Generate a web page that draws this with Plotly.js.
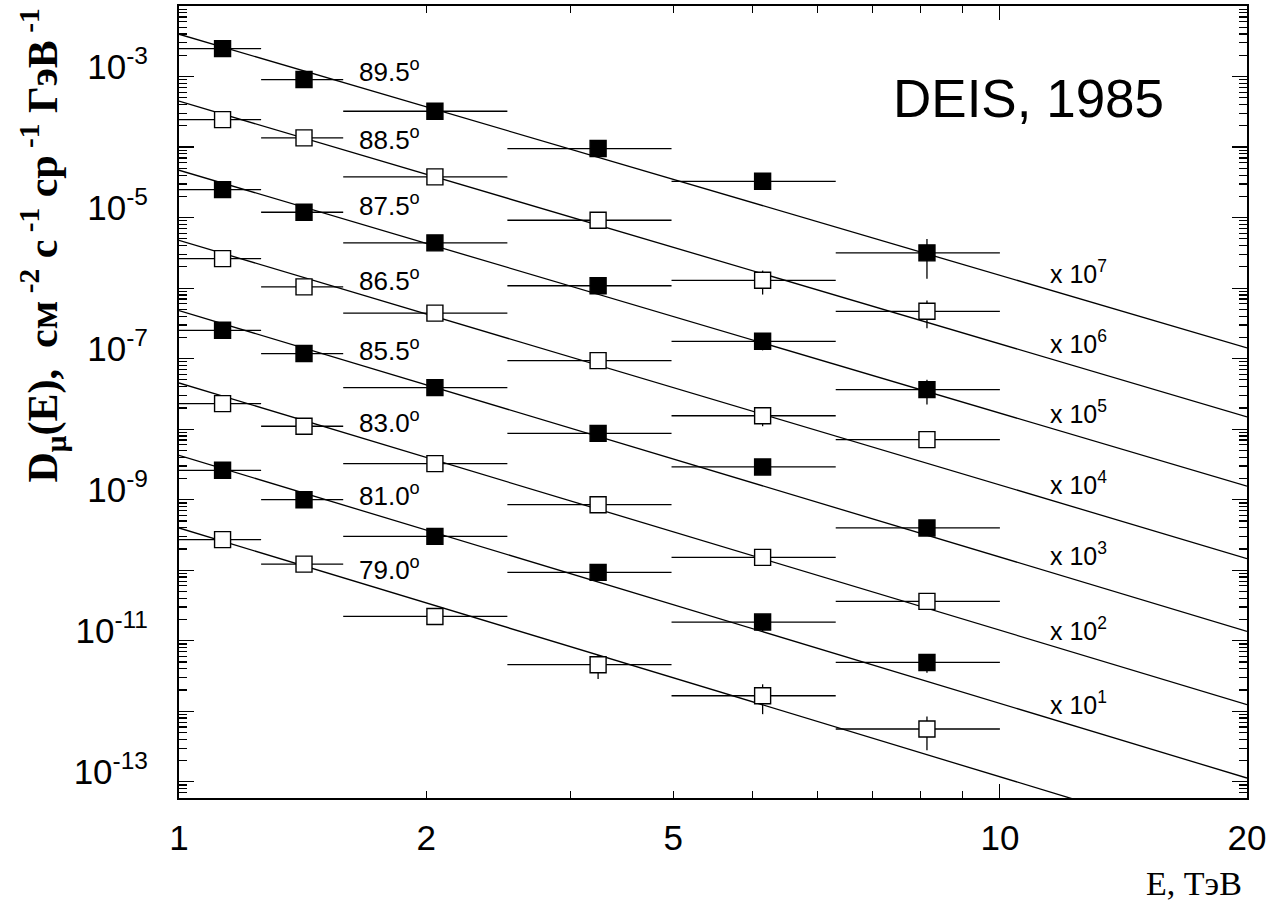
<!DOCTYPE html>
<html><head><meta charset="utf-8">
<script src="https://cdn.plot.ly/plotly-3.0.1.min.js"></script>
<style>html,body{margin:0;padding:0;background:#fff}#chart{width:1279px;height:905px}</style>
</head><body><div id="chart"></div>
<script>
// ---------- data ----------
const angles = ['89.5', '88.5', '87.5', '86.5', '85.5', '83.0', '81.0', '79.0'];
const filled = [true, false, true, false, true, false, true, false];
const multipliers = ['7', '6', '5', '4', '3', '2', '1'];

const energy = [1.13, 1.42, 2.05, 3.24, 5.14, 8.15];        // TeV, marker positions
const binLo  = [1.0, 1.259, 1.585, 2.512, 3.981, 6.31];
const binHi  = [1.259, 1.585, 2.512, 3.981, 6.31, 10.0];

const d895 = [2.49e-3, 9.06e-4, 3.22e-4, 9.52e-5, 3.27e-5, 3.16e-6];
const d885 = [2.45e-4, 1.35e-4, 3.78e-5, 9.16e-6, 1.29e-6, 4.69e-7];
const d875 = [2.49e-5, 1.19e-5, 4.38e-6, 1.08e-6, 1.76e-7, 3.63e-8];
const d865 = [2.62e-6, 1.04e-6, 4.42e-7, 9.37e-8, 1.55e-8, 7.10e-9];
const d855 = [2.52e-7, 1.18e-7, 3.88e-8, 8.71e-9, 2.91e-9, 3.97e-10];
const d830 = [2.30e-8, 1.10e-8, 3.24e-9, 8.49e-10, 1.52e-10, 3.61e-11];
const d810 = [2.61e-9, 1.00e-9, 3.02e-10, 9.31e-11, 1.84e-11, 4.92e-12];
const d790 = [2.71e-10, 1.22e-10, 2.21e-11, 4.57e-12, 1.66e-12, 5.60e-13];

const e895 = [0, 0, 0, 0, 8e-6, 1.8e-6];
const e885 = [0, 0, 0, 0, 4.8e-7, 2.0e-7];
const e875 = [0, 0, 0, 0, 4.5e-8, 1.4e-8];
const e865 = [0, 0, 0, 0, 4.5e-9, 1.5e-9];
const e855 = [0, 0, 0, 0, 4e-10, 6e-11];
const e830 = [0, 0, 0, 0, 3e-11, 8e-12];
const e810 = [0, 0, 0, 0, 5e-12, 1.4e-12];
const e790 = [0, 0, 0, 1.7e-12, 7.5e-13, 2.8e-13];

const fitE   = [1, 20];
const fitAt1  = [3.98e-3, 4.47e-4, 4.69e-5, 4.76e-6, 4.80e-7, 4.52e-8, 4.25e-9, 3.97e-10];
const fitAt20 = [1.42e-7, 1.49e-8, 1.55e-9, 1.46e-10, 1.36e-11, 1.24e-12, 1.13e-13, 1.02e-14];

const xTickVals = [1, 2, 4, 10, 20];
const xTickText = ['1', '2', '5', '10', '20'];
const xMinor = [2, 3, 4, 5, 6, 7, 8, 9];
const yDecades = [-13, -12, -11, -10, -9, -8, -7, -6, -5, -4, -3];
const minorMult = [2, 3, 4, 5, 6, 7, 8, 9];

// ---------- label placement (paper coords) ----------
const angleLabelX = 0.1665;
const angleLabelY = [0.918, 0.8333, 0.7494, 0.6553, 0.5657, 0.476, 0.3838, 0.2904];
const multLabelX = 0.8140;
const multLabelY = [0.6641, 0.5758, 0.4874, 0.3977, 0.3081, 0.214, 0.12];

const series = [d895, d885, d875, d865, d855, d830, d810, d790];
const errs = [e895, e885, e875, e865, e855, e830, e810, e790];

const traces = [];
for (let i = 0; i < series.length; i++) {
  traces.push({
    x: fitE, y: [fitAt1[i], fitAt20[i]], mode: 'lines',
    line: {color: '#000', width: 1.3}, hoverinfo: 'skip', showlegend: false
  });
}
for (let i = 0; i < series.length; i++) {
  traces.push({
    x: energy, y: series[i], mode: 'markers', showlegend: false,
    marker: {symbol: 'square', size: 16, color: filled[i] ? '#000' : '#fff',
             line: {color: '#000', width: 1.4}},
    error_x: {type: 'data', symmetric: false,
              array: binHi.map((h, j) => h - energy[j]),
              arrayminus: energy.map((e, j) => e - binLo[j]),
              width: 0, thickness: 1.3, color: '#000'},
    error_y: {type: 'data', array: errs[i], width: 0, thickness: 1.3, color: '#000'}
  });
}
traces.push({x: [], y: [], xaxis: 'x2', yaxis: 'y', showlegend: false});

const yTickVals = yDecades.map(d => Math.pow(10, d));
const yTickText = yDecades.map(d => (Math.abs(d) % 2 === 1) ? '10<sup>' + d + '</sup>' : '');
const yMinor = [];
for (let d = -14; d <= -3; d++) for (const m of minorMult) yMinor.push(m * Math.pow(10, d));

const serif = 'Liberation Serif, Times New Roman, serif';
const sans = 'Liberation Sans, Arial, sans-serif';

const annotations = [
  {xref: 'paper', yref: 'paper', x: -0.128, y: 0.698, textangle: -90, showarrow: false,
   xanchor: 'center', yanchor: 'middle',
   text: '<b>D<sub>μ</sub>(E),  см<sup> -2</sup> с<sup> -1</sup> ср<sup> -1</sup> ГэВ<sup> -1</sup></b>',
   font: {family: serif, size: 42, color: '#000'}},
  {xref: 'paper', yref: 'paper', x: 0.997, y: -0.1075, showarrow: false,
   xanchor: 'right', yanchor: 'middle', text: 'E, ТэВ',
   font: {family: serif, size: 34, color: '#000'}},
  {xref: 'paper', yref: 'paper', x: 0.7956, y: 0.8826, showarrow: false,
   xanchor: 'center', yanchor: 'middle', text: 'DEIS, 1985',
   font: {family: sans, size: 53, color: '#000'}}
];
angles.forEach((a, i) => annotations.push({
  xref: 'paper', yref: 'paper', x: angleLabelX, y: angleLabelY[i], showarrow: false,
  xanchor: 'left', yanchor: 'middle', text: a + '<sup>o</sup>',
  font: {family: sans, size: 26, color: '#000'}
}));
multipliers.forEach((m, i) => annotations.push({
  xref: 'paper', yref: 'paper', x: multLabelX, y: multLabelY[i], showarrow: false,
  xanchor: 'left', yanchor: 'middle', text: 'x 10<sup>' + m + '</sup>',
  font: {family: sans, size: 25, color: '#000'}
}));

const xRange = [0, Math.log10(20)];
const layout = {
  width: 1279, height: 905,
  margin: {l: 179, r: 32, t: 6, b: 107},
  paper_bgcolor: '#fff', plot_bgcolor: '#fff', showlegend: false,
  font: {family: sans, color: '#000'},
  xaxis: {type: 'log', range: xRange, autorange: false, showline: true, linecolor: '#000', linewidth: 2,
          mirror: 'ticks', ticks: 'inside', tickmode: 'array', tickvals: [10], ticklen: 14, tickwidth: 1.2,
          tickcolor: '#000', showticklabels: false, showgrid: false, zeroline: false,
          minor: {tickmode: 'array', tickvals: xMinor, ticks: 'inside', ticklen: 7, tickwidth: 1.2,
                  tickcolor: '#000', showgrid: false}},
  xaxis2: {type: 'log', overlaying: 'x', anchor: 'y', side: 'bottom', range: xRange, autorange: false,
           tickmode: 'array', tickvals: xTickVals, ticktext: xTickText, ticks: '', showline: false,
           showgrid: false, zeroline: false, tickfont: {family: sans, size: 35, color: '#000'},
           ticklabelstandoff: 16},
  yaxis: {type: 'log', range: [-13.23, -2.0], autorange: false, showline: true, linecolor: '#000', linewidth: 2,
          mirror: 'ticks', ticks: 'inside', tickmode: 'array', tickvals: yTickVals, ticktext: yTickText,
          ticklen: 15, tickwidth: 1.2, tickcolor: '#000', showgrid: false, zeroline: false,
          tickfont: {family: sans, size: 35, color: '#000'}, ticklabelstandoff: 22, ticklabelshift: -10,
          minor: {tickmode: 'array', tickvals: yMinor, ticks: 'inside', ticklen: 8, tickwidth: 1.2,
                  tickcolor: '#000', showgrid: false}},
  annotations: annotations
};

Plotly.newPlot('chart', traces, layout, {staticPlot: true, displayModeBar: false});
</script>
</body></html>
